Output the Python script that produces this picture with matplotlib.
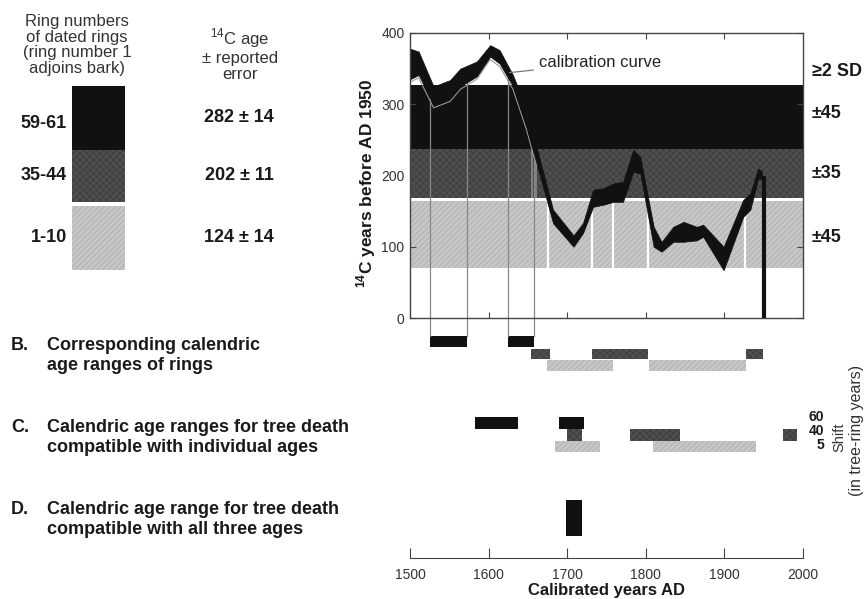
import numpy as np
import matplotlib
matplotlib.use("Agg")
import matplotlib.pyplot as plt
from matplotlib.patches import Rectangle

plt.rcParams['font.family'] = ['Liberation Sans', 'DejaVu Sans']
plt.rcParams['mathtext.fontset'] = 'custom'
plt.rcParams['mathtext.rm'] = 'Liberation Sans'
plt.rcParams['mathtext.bf'] = 'Liberation Sans:bold'
plt.rcParams['hatch.linewidth'] = 0.5

# calibration curve (upper / lower edge of the band)
cal_years = [1500, 1511, 1530, 1551, 1564, 1585, 1602, 1614, 1631, 1648, 1661,
             1682, 1708, 1720, 1733, 1746, 1759, 1771, 1784, 1793, 1810, 1820,
             1835, 1848, 1865, 1873, 1899, 1924, 1933, 1943, 1948]
cal_upper = [378, 374, 325, 334, 350, 360, 383, 376, 341, 294, 240,
             152, 116, 133, 180, 182, 189, 191, 236, 226, 128, 107,
             128, 135, 128, 131, 100, 166, 175, 210, 205]
cal_lower = [335, 341, 299, 308, 325, 339, 367, 357, 325, 269, 217,
             133, 100, 119, 156, 159, 163, 163, 205, 203, 100, 93,
             107, 107, 109, 114, 67, 142, 152, 196, 195]
bomb_year = 1950
bomb_top = 200

# 14C age bands (dated rings +- error)
band_black = (237, 327)
band_dark = (168, 237)
band_light = (70, 164)
light_breaks = [1676, 1731, 1758, 1803, 1926]
dark_breaks = [1655, 1660]

# projection lines from curve to calendric ranges
proj_years = [1525, 1572, 1625, 1658]

ring_labels = ["59-61", "35-44", "1-10"]
age_labels = ["282 \u00b1 14", "202 \u00b1 11", "124 \u00b1 14"]
band_labels = ["\u22652 SD", "\u00b145", "\u00b135", "\u00b145"]

# calendric age ranges (start, end)
B_black = [(1525, 1572), (1625, 1658)]
B_dark = [(1654, 1678), (1731, 1803), (1928, 1949)]
B_light = [(1674, 1758), (1804, 1928)]
C_black = [(1583, 1637), (1690, 1722)]
C_dark = [(1700, 1719), (1780, 1843), (1975, 1992)]
C_light = [(1685, 1742), (1809, 1940)]
D_all = [(1698, 1719)]
shift_labels = ["60", "40", "5"]

BLACK = "#111111"
DARK = "#4f4f4f"
LIGHT = "#c6c6c6"
TXT = "#1a1a1a"
SOFT = "#333333"
# hatch colours give the dotted print texture
HATCH = {BLACK: (None, "none"), DARK: ("xxxxx", "#3a3a3a"), LIGHT: ("//////", "#ababab")}

W, H = 865, 599
fig = plt.figure(figsize=(W / 100, H / 100), dpi=100)

# background axes in pixel coords for the left-hand annotations
bg = fig.add_axes([0, 0, 1, 1], zorder=0)
bg.set_xlim(0, W)
bg.set_ylim(H, 0)
bg.axis("off")

bg.text(77, 45, "Ring numbers\nof dated rings\n(ring number 1\nadjoins bark)",
        ha="center", va="center", fontsize=12, color=SOFT, linespacing=1.05)
bg.text(240, 54, "$^{14}$C age\n\u00b1 reported\nerror",
        ha="center", va="center", fontsize=12, color=SOFT, linespacing=1.1)
sw = [(86, 150, BLACK), (150, 202, DARK), (206, 270, LIGHT)]
label_y = [123, 176, 238]
age_y = [118, 175, 237]
for (y0, y1, c), lab, ly, age, ay in zip(sw, ring_labels, label_y, age_labels, age_y):
    hatch, hc = HATCH[c]
    bg.add_patch(Rectangle((72, y0), 53, y1 - y0, facecolor=c, edgecolor=hc, lw=0, hatch=hatch))
    bg.text(67, ly, lab, ha="right", va="center", fontsize=13, fontweight="bold", color=TXT)
    bg.text(239, ay, age, ha="center", va="center", fontsize=13, fontweight="bold", color=TXT)

rows = [("B.", "Corresponding calendric", "age ranges of rings", 345, 365),
        ("C.", "Calendric age ranges for tree death", "compatible with individual ages", 427, 448),
        ("D.", "Calendric age range for tree death", "compatible with all three ages", 510, 530)]
for tag, l1, l2, y1, y2 in rows:
    bg.text(11, y1, tag, ha="left", va="center", fontsize=13, fontweight="bold", color=TXT)
    bg.text(47, y1, l1, ha="left", va="center", fontsize=13, fontweight="bold", color=TXT)
    bg.text(47, y2, l2, ha="left", va="center", fontsize=13, fontweight="bold", color=TXT)

for lab, y in zip(band_labels, [72, 114, 173, 238]):
    bg.text(812, y, lab, ha="left", va="center", fontsize=13, fontweight="bold", color=TXT)
for lab, y in zip(shift_labels, [417, 431, 445]):
    bg.text(824, y, lab, ha="right", va="center", fontsize=10, fontweight="bold", color=TXT)
bg.text(839, 437, "Shift", rotation=90, ha="center", va="center", fontsize=10.5, color=SOFT)
bg.text(857, 430, "(in tree-ring years)", rotation=90, ha="center", va="center",
        fontsize=11.5, color=SOFT)
bg.text(366, 183, "$^{\\mathbf{14}}$C years before AD 1950", rotation=90, ha="center",
        va="center", fontsize=12.5, fontweight="bold", color=TXT)
bg.text(606, 590, "Calibrated years AD", ha="center", va="center", fontsize=12,
        fontweight="bold", color=TXT)

# top panel: calibration curve
ax = fig.add_axes([410 / W, 1 - 318 / H, 393 / W, 285 / H], zorder=2)
ax.set_xlim(1500, 2000)
ax.set_ylim(0, 400)
ax.patch.set_alpha(0)
for (lo, hi), c in [(band_black, BLACK), (band_dark, DARK), (band_light, LIGHT)]:
    hatch, hc = HATCH[c]
    ax.axhspan(lo, hi, facecolor=c, edgecolor=hc, lw=0, hatch=hatch, zorder=1)
for x in light_breaks:
    ax.vlines(x, band_light[0], band_light[1], color="white", lw=1.6, zorder=2)
for x in dark_breaks:
    ax.vlines(x, band_dark[0], band_dark[1], color="#8a8a8a", lw=1.2, zorder=2)

ax.fill_between(cal_years, cal_lower, cal_upper, color=BLACK, lw=0.5, zorder=4)
ax.plot([bomb_year, bomb_year], [0, bomb_top], color=BLACK, lw=3, zorder=4,
        solid_capstyle="butt")
left = [i for i, y in enumerate(cal_years) if y <= 1662]
ax.plot([cal_years[i] for i in left], [cal_lower[i] - 4 for i in left],
        color="#999999", lw=0.8, zorder=3)

lower_interp = np.interp(proj_years, cal_years, cal_lower)
for x, top in zip(proj_years, lower_interp):
    ax.plot([x, x], [-25, top], color="#888888", lw=0.9, zorder=3, clip_on=False)

ax.annotate("calibration curve", xy=(1623, 344), xytext=(1664, 358),
            fontsize=12, color="#222222", va="center",
            arrowprops=dict(arrowstyle="-", color="#777777", lw=0.9), zorder=5)

ax.set_xticks([1600, 1700, 1800, 1900])
ax.set_xticklabels([])
ax.set_yticks([0, 100, 200, 300, 400])
ax.tick_params(direction="in", top=True, right=True, length=4, labelsize=10,
               labelcolor=SOFT, color="#444444", pad=4)
for s in ax.spines.values():
    s.set_color("#444444")
    s.set_linewidth(1.0)
    s.set_zorder(6)

# lower panel: calendric ranges
axb = fig.add_axes([410 / W, 1 - 558 / H, 393 / W, 238 / H], zorder=1)
axb.set_xlim(1500, 2000)
axb.set_ylim(238, 0)
axb.patch.set_alpha(0)


def bars(ranges, y0, h, color):
    hatch, hc = HATCH[color]
    axb.broken_barh([(a, b - a) for a, b in ranges], (y0, h), facecolors=color,
                    edgecolors=hc, lw=0, hatch=hatch)


bars(B_black, 16, 11, BLACK)
bars(B_dark, 29, 10, DARK)
bars(B_light, 40, 11, LIGHT)
bars(C_black, 97, 12, BLACK)
bars(C_dark, 109, 12, DARK)
bars(C_light, 121, 11, LIGHT)
bars(D_all, 180, 36, BLACK)

for side in ["top", "left", "right"]:
    axb.spines[side].set_visible(False)
axb.spines["bottom"].set_color("#444444")
axb.set_yticks([])
axb.set_xticks([1500, 1600, 1700, 1800, 1900, 2000])
axb.tick_params(axis="x", direction="in", length=7, labelsize=10, labelcolor=SOFT,
                color="#444444", pad=7)

fig.savefig("out.png", dpi=100)
